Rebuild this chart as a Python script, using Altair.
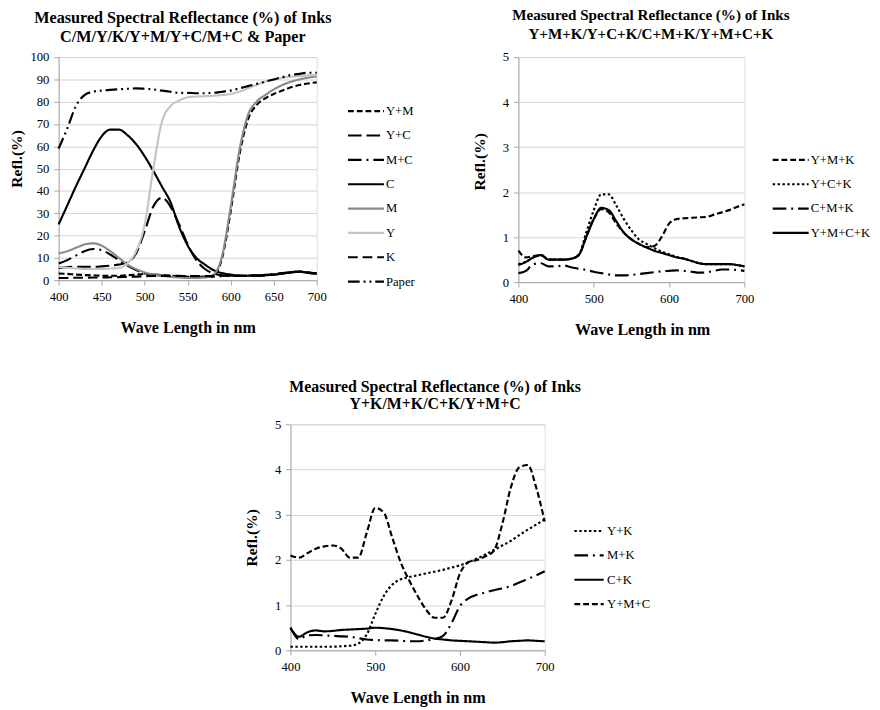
import altair as alt
import pandas as pd

FONT = "Liberation Serif"

wl = list(range(400, 701, 10))

# ---------- Panel 1 ----------
p1_names = ["Y+M", "Y+C", "M+C", "C", "M", "Y", "K", "Paper"]
p1_colors = ["#000000", "#000000", "#000000", "#000000", "#8a8a8a", "#c4c4c4", "#000000", "#000000"]
p1_dash = [[6, 3], [14, 5], [14, 5, 2, 5], [1, 0], [1, 0], [1, 0], [10, 5], [12, 4, 2, 4, 2, 4]]
p1_YM = [3, 2.8, 2.5, 2.3, 2.2, 2, 2, 2, 2.2, 2.5, 2.8, 2.6, 2.3, 2, 1.8, 1.6, 1.5, 1.5, 2, 10, 31, 56, 72, 78.5, 81.5, 83.5, 85, 86.5, 87.5, 88.2, 88.7]
p1_YC = [5.5, 5.8, 6, 6, 6, 6.2, 6.5, 7, 8, 12, 22, 33, 37, 33, 25, 16, 9, 5, 3, 2.2, 2, 2, 2, 2, 2.2, 2.5, 3, 3.5, 3.8, 3.3, 3]
p1_MC = [7.5, 9, 11, 13, 14, 13.5, 11.5, 9, 6.5, 4.5, 3, 2.5, 2, 1.8, 1.6, 1.5, 1.5, 1.5, 1.6, 1.8, 2, 2, 2, 2, 2.2, 2.5, 3, 3.5, 3.8, 3.3, 3]
p1_C = [25, 33.5, 42, 50, 58, 64.5, 67.5, 67.5, 65, 61, 55.5, 49, 42, 35, 24, 15.5, 10, 7, 4.5, 3.2, 2.5, 2, 2, 2, 2.2, 2.5, 3, 3.5, 3.8, 3.3, 3]
p1_M = [12, 13, 14.5, 16, 16.5, 15.5, 13, 10, 7, 5, 3.5, 2.5, 2, 1.5, 1.2, 1, 1, 1.2, 2.5, 11, 33, 58, 74, 80, 83, 85.5, 87.5, 89, 90, 90.8, 91.3]
p1_Y = [6, 5.5, 5.3, 5, 5, 5, 5.2, 5.5, 7.5, 13, 25, 50, 71, 78, 80.5, 82, 82.3, 82.5, 82.7, 83, 83.5, 84.5, 86, 87.5, 89, 90, 90.7, 91.2, 91.5, 91.8, 92]
p1_K = [1, 1, 1.1, 1.1, 1.2, 1.2, 1.3, 1.4, 1.5, 1.6, 1.8, 1.9, 1.9, 1.9, 1.9, 1.8, 1.8, 1.8, 1.9, 2, 2, 2, 2.1, 2.2, 2.4, 2.7, 3.2, 3.6, 3.9, 3.5, 3]
p1_Paper = [59, 68, 78, 83, 84.5, 85, 85.3, 85.6, 85.8, 86, 85.8, 85.5, 85, 84.5, 84, 84, 83.8, 83.8, 84, 84.5, 85, 86, 87, 88, 89, 90, 91, 92, 92.5, 93, 93]
p1_vals = [p1_YM, p1_YC, p1_MC, p1_C, p1_M, p1_Y, p1_K, p1_Paper]

# ---------- Panel 2 ----------
p2_names = ["Y+M+K", "Y+C+K", "C+M+K", "Y+M+C+K"]
p2_colors = ["#000000"] * 4
p2_dash = [[6, 3], [2.5, 2.5], [14, 5, 2, 5], [1, 0]]
p2_YMK = [0.7, 0.55, 0.58, 0.6, 0.5, 0.5, 0.5, 0.52, 0.6, 1.0, 1.4, 1.62, 1.55, 1.3, 1.1, 0.95, 0.85, 0.78, 0.8, 1.0, 1.3, 1.4, 1.42, 1.43, 1.44, 1.45, 1.5, 1.55, 1.6, 1.67, 1.73]
p2_YCK = [0.4, 0.45, 0.55, 0.6, 0.5, 0.5, 0.5, 0.52, 0.6, 1.1, 1.6, 1.95, 1.95, 1.7, 1.4, 1.15, 0.95, 0.85, 0.76, 0.68, 0.62, 0.56, 0.52, 0.47, 0.42, 0.4, 0.4, 0.4, 0.4, 0.38, 0.35]
p2_CMK = [0.2, 0.25, 0.4, 0.42, 0.35, 0.35, 0.37, 0.33, 0.3, 0.27, 0.23, 0.2, 0.17, 0.15, 0.15, 0.16, 0.18, 0.2, 0.22, 0.24, 0.25, 0.26, 0.25, 0.23, 0.21, 0.22, 0.25, 0.28, 0.28, 0.27, 0.25]
p2_YMCK = [0.38, 0.45, 0.55, 0.6, 0.5, 0.5, 0.5, 0.52, 0.6, 1.0, 1.4, 1.65, 1.6, 1.35, 1.1, 0.95, 0.85, 0.77, 0.7, 0.65, 0.6, 0.55, 0.52, 0.47, 0.42, 0.4, 0.4, 0.4, 0.4, 0.38, 0.35]
p2_vals = [p2_YMK, p2_YCK, p2_CMK, p2_YMCK]

# ---------- Panel 3 ----------
p3_names = ["Y+K", "M+K", "C+K", "Y+M+C"]
p3_colors = ["#000000"] * 4
p3_dash = [[2.5, 2.5], [14, 5, 2, 5], [1, 0], [6, 3]]
p3_YK = [0.08, 0.08, 0.08, 0.08, 0.08, 0.08, 0.09, 0.1, 0.15, 0.35, 0.8, 1.2, 1.45, 1.57, 1.62, 1.66, 1.7, 1.74, 1.78, 1.83, 1.88, 1.95, 2.03, 2.12, 2.22, 2.32, 2.42, 2.55, 2.67, 2.78, 2.9]
p3_MK = [0.5, 0.25, 0.33, 0.34, 0.33, 0.32, 0.31, 0.3, 0.27, 0.24, 0.23, 0.22, 0.22, 0.21, 0.2, 0.2, 0.22, 0.25, 0.32, 0.6, 0.98, 1.15, 1.23, 1.28, 1.33, 1.37, 1.42, 1.5, 1.58, 1.66, 1.75]
p3_CK = [0.5, 0.3, 0.4, 0.44, 0.42, 0.43, 0.45, 0.46, 0.47, 0.48, 0.5, 0.49, 0.47, 0.44, 0.4, 0.35, 0.3, 0.26, 0.24, 0.22, 0.21, 0.2, 0.19, 0.18, 0.17, 0.18, 0.2, 0.21, 0.22, 0.21, 0.2]
p3_YMC = [2.1, 2.05, 2.15, 2.25, 2.3, 2.32, 2.25, 2.05, 2.05, 2.6, 3.15, 3.05, 2.5, 1.95, 1.55, 1.2, 0.9, 0.72, 0.72, 1.1, 1.7, 1.95, 2.0, 2.08, 2.2, 2.8, 3.6, 4.05, 4.1, 3.6, 2.85]
p3_vals = [p3_YK, p3_MK, p3_CK, p3_YMC]


def long_df(names, vals):
    rows = []
    for n, v in zip(names, vals):
        for w, y in zip(wl, v):
            rows.append({"wl": w, "refl": y, "series": n})
    return pd.DataFrame(rows)


def panel(names, colors, dashes, vals, title, w, h, ymax, ystep, xstep,
          title_size, title_lh, title_offset, title_dx, leg_x, leg_y,
          ytitle_y, ytitle_pad, xtitle_x=None, sym_path="M-1.13,0H1.13", label_off=3):
    df = long_df(names, vals)
    leg = dict(title=None, orient="none", legendX=leg_x, legendY=leg_y,
               symbolType=sym_path, symbolSize=1068, symbolStrokeWidth=2.2,
               labelFont=FONT, labelFontSize=13, labelColor="black",
               labelOffset=label_off, rowPadding=0)
    xaxis = dict(values=list(range(400, 701, xstep)), grid=False, domainColor="#a6a6a6",
                 tickColor="#a6a6a6", tickSize=5, labelPadding=6, labelFlush=False,
                 labelFont=FONT, labelFontSize=13, labelColor="black",
                 title="Wave Length in nm", titleFont=FONT, titleFontSize=16.5,
                 titleFontWeight="bold", titleColor="black", titlePadding=17)
    if xtitle_x is not None:
        xaxis["titleX"] = xtitle_x
    yvals = []
    v = 0
    while v <= ymax + 1e-9:
        yvals.append(v)
        v += ystep
    yaxis = dict(values=yvals, grid=True, gridColor="#d4d4d4", domainColor="#a6a6a6",
                 tickColor="#a6a6a6", tickSize=5, labelPadding=5, labelFont=FONT,
                 labelFontSize=13, labelColor="black", title="Refl.(%)",
                 titleFont=FONT, titleFontSize=16, titleFontWeight="bold",
                 titleColor="black", titlePadding=ytitle_pad, titleY=ytitle_y)
    ch = alt.Chart(df).mark_line(interpolate="monotone", strokeWidth=2.2).encode(
        x=alt.X("wl:Q", scale=alt.Scale(domain=[400, 700], nice=False), axis=alt.Axis(**xaxis)),
        y=alt.Y("refl:Q", scale=alt.Scale(domain=[0, ymax], nice=False), axis=alt.Axis(**yaxis)),
        color=alt.Color("series:N", scale=alt.Scale(domain=names, range=colors), legend=alt.Legend(**leg)),
        strokeDash=alt.StrokeDash("series:N", scale=alt.Scale(domain=names, range=dashes), legend=alt.Legend(**leg)),
        detail="series:N",
    ).properties(
        width=w, height=h,
        title=alt.TitleParams(text=title, font=FONT, fontSize=title_size, fontWeight="bold",
                              color="black", anchor="middle", frame="group",
                              lineHeight=title_lh, offset=title_offset, dx=title_dx),
    )
    return ch


p1 = panel(p1_names, p1_colors, p1_dash, p1_vals,
           ["Measured Spectral Reflectance (%) of Inks", "C/M/Y/K/Y+M/Y+C/M+C & Paper"],
           265, 229, 100, 10, 50, 16.6, 19, 6, -5, 298, 38, 104, 6)
p2 = panel(p2_names, p2_colors, p2_dash, p2_vals,
           ["Measured Spectral Reflectance (%) of Inks", "Y+M+K/Y+C+K/C+M+K/Y+M+C+K"],
           232, 231, 5, 1, 100, 15.5, 20, 9, 20, 262, 88, 107, 15, 127)
p3 = panel(p3_names, p3_colors, p3_dash, p3_vals,
           ["Measured Spectral Reflectance (%) of Inks", "Y+K/M+K/C+K/Y+M+C"],
           261, 232, 5, 1, 100, 16.3, 18, 6, 18, 289, 92, 116, 15,
           sym_path="M-0.92,0H0.92", label_off=1)

spacer = alt.Chart(pd.DataFrame({"a": [0]})).mark_point(opacity=0, size=1).encode(
    x=alt.X("a:Q", axis=None, scale=alt.Scale(domain=[0, 1])),
    y=alt.Y("a:Q", axis=None, scale=alt.Scale(domain=[0, 1])),
).properties(width=42, height=1, view=alt.ViewBackground(stroke="transparent", strokeOpacity=0))

top = alt.hconcat(p1, p2, spacing=207, bounds="flush").resolve_scale(
    color="independent", strokeDash="independent").resolve_legend(
    color="independent", strokeDash="independent")
bottom = alt.hconcat(spacer, p3, spacing=196, bounds="flush").resolve_scale(
    color="independent", strokeDash="independent").resolve_legend(
    color="independent", strokeDash="independent")

chart = alt.vconcat(top, bottom, spacing=41).resolve_scale(
    color="independent", strokeDash="independent").resolve_legend(
    color="independent", strokeDash="independent").properties(
    padding={"top": -10, "left": 0, "right": 0, "bottom": 0}, background="white"
).configure_view(stroke="transparent", strokeOpacity=0).configure(font=FONT)

chart.save("out.html", embed_options={"renderer": "svg", "actions": False})
